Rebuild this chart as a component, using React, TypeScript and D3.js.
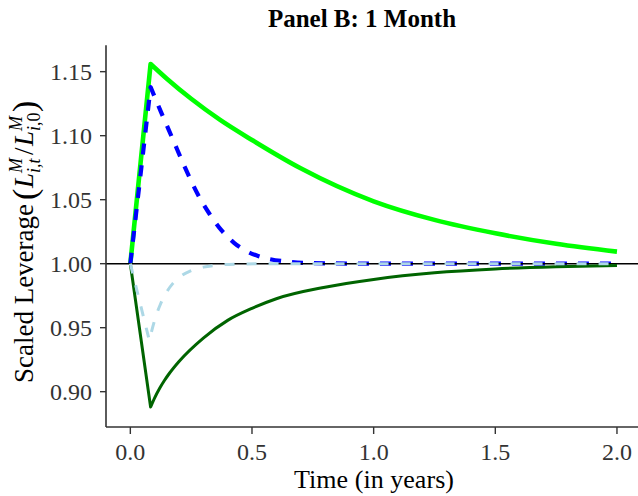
import React from "react";
import * as d3 from "d3";

// Scaled leverage paths after a one-month shock (time in years)
const upperTime = [0, 0.0833, 0.15, 0.25, 0.369, 0.5, 0.7, 1.0, 1.25, 1.5, 1.75, 2.0];
const upperLev = [1.0, 1.156, 1.1445, 1.1288, 1.1123, 1.0966, 1.0745, 1.0487, 1.0342, 1.0237, 1.0155, 1.0094];

const upperDashTime = [0, 0.0833, 0.125, 0.175, 0.225, 0.275, 0.325, 0.375, 0.425, 0.475, 0.525, 0.575, 0.65, 0.75, 1.0, 1.5, 2.0];
const upperDashLev = [1.0, 1.138, 1.119, 1.097, 1.075, 1.055, 1.039, 1.026, 1.0165, 1.01, 1.006, 1.0035, 1.0015, 1.0004, 1.0, 1.0, 1.0];

const lowerTime = [0, 0.0833, 0.1, 0.12, 0.14, 0.16, 0.2, 0.3, 0.4, 0.5, 0.6, 0.8, 1.0, 1.25, 1.5, 1.75, 2.0];
const lowerLev = [1.0, 0.888, 0.8952, 0.9025, 0.9087, 0.9142, 0.9236, 0.9419, 0.9557, 0.9651, 0.9726, 0.9816, 0.9877, 0.9929, 0.9959, 0.9976, 0.9986];

const lowerDashTime = [0, 0.078, 0.1, 0.125, 0.15, 0.175, 0.2, 0.25, 0.3, 0.35, 0.43, 0.55, 1.0, 1.5, 2.0];
const lowerDashLev = [1.0, 0.94, 0.9559, 0.9689, 0.9781, 0.9846, 0.9891, 0.9946, 0.9973, 0.9987, 0.9996, 0.9999, 1.0, 1.0, 1.0];

const xTicks = [0, 0.5, 1.0, 1.5, 2.0];
const yTicks = [0.9, 0.95, 1.0, 1.05, 1.1, 1.15];

const W = 638;
const H = 496;
const SERIF = "'Liberation Serif', 'Times New Roman', serif";
const AXIS = "#333333";

const x = d3.scaleLinear().domain([-0.1, 2.1]).range([106, 641.3]);
const y = d3.scaleLinear().domain([0.8724, 1.1706]).range([427, 45.3]);

type Pt = [number, number];

// Straight jump during the shock month, then a smooth path back
function shockPath(t: number[], v: number[]): string {
  const pts: Pt[] = t.map((ti, i) => [ti, v[i]]);
  const lin = d3.line<Pt>().x((d) => x(d[0])).y((d) => y(d[1]));
  const smooth = d3
    .line<Pt>()
    .curve(d3.curveMonotoneX)
    .x((d) => x(d[0]))
    .y((d) => y(d[1]));
  const head = lin(pts.slice(0, 2)) || "";
  const tail = (smooth(pts.slice(1)) || "").replace(/^M/, "L");
  return head + tail;
}

export default function App() {
  const plotLeft = 106;
  const plotBottom = 427;
  const plotTop = 45.3;
  return (
    <svg
      width={W}
      height={H}
      style={{ position: "absolute", left: 0, top: 0, background: "#fff" }}
    >
      <text
        x={362}
        y={27}
        textAnchor="middle"
        fontFamily={SERIF}
        fontWeight="bold"
        fontSize={25}
        fill="#000"
      >
        Panel B: 1 Month
      </text>

      <path d={shockPath(upperTime, upperLev)} fill="none" stroke="#00ff00" strokeWidth={4.6} strokeLinejoin="round" />
      <path
        d={shockPath(upperDashTime, upperDashLev)}
        fill="none"
        stroke="#0000ff"
        strokeWidth={4.2}
        strokeDasharray="11 11"
        strokeLinejoin="round"
      />
      <line x1={plotLeft} x2={W} y1={y(1)} y2={y(1)} stroke="#000" strokeWidth={1.5} />
      <path d={shockPath(lowerTime, lowerLev)} fill="none" stroke="#006400" strokeWidth={3} strokeLinejoin="round" />
      <path
        d={shockPath(lowerDashTime, lowerDashLev)}
        fill="none"
        stroke="#add8e6"
        strokeWidth={3}
        strokeDasharray="10 12"
        strokeLinejoin="round"
      />

      {/* axes */}
      <line x1={plotLeft} x2={plotLeft} y1={plotTop} y2={plotBottom} stroke={AXIS} strokeWidth={1.6} />
      <line x1={plotLeft} x2={W} y1={plotBottom} y2={plotBottom} stroke={AXIS} strokeWidth={1.6} />
      {yTicks.map((v) => (
        <g key={"y" + v}>
          <line x1={plotLeft - 6} x2={plotLeft} y1={y(v)} y2={y(v)} stroke={AXIS} strokeWidth={1.4} />
          <text
            x={plotLeft - 14}
            y={y(v)}
            dy="0.34em"
            textAnchor="end"
            fontFamily={SERIF}
            fontSize={24}
            fill="#333"
          >
            {d3.format(".2f")(v)}
          </text>
        </g>
      ))}
      {xTicks.map((v) => (
        <g key={"x" + v}>
          <line x1={x(v)} x2={x(v)} y1={plotBottom} y2={plotBottom + 7} stroke={AXIS} strokeWidth={1.4} />
          <text x={x(v)} y={460} textAnchor="middle" fontFamily={SERIF} fontSize={24} fill="#333">
            {d3.format(".1f")(v)}
          </text>
        </g>
      ))}

      <text
        x={374}
        y={488}
        textAnchor="middle"
        fontFamily={SERIF}
        fontSize={26}
        textLength={160}
        lengthAdjust="spacing"
        fill="#000"
      >
        Time (in years)
      </text>

      {/* rotated y-axis title with leverage ratio */}
      <g transform="translate(33,383) rotate(-90)" fontFamily={SERIF} fill="#000">
        <text x={0} y={0} fontSize={27} textLength={179} lengthAdjust="spacing">
          Scaled Leverage
        </text>
        <text x={183} y={3} fontSize={34}>(</text>
        <text x={195} y={0} fontSize={27} fontStyle="italic">L</text>
        <text x={210} y={-11} fontSize={18} fontStyle="italic">M</text>
        <text x={210} y={7} fontSize={18} fontStyle="italic">i,t</text>
        <text x={228} y={0} fontSize={27}>/</text>
        <text x={237} y={0} fontSize={27} fontStyle="italic">L</text>
        <text x={252} y={-11} fontSize={18} fontStyle="italic">M</text>
        <text x={252} y={7} fontSize={18}>
          <tspan fontStyle="italic">i</tspan>,0
        </text>
        <text x={271} y={3} fontSize={34}>)</text>
      </g>
    </svg>
  );
}
